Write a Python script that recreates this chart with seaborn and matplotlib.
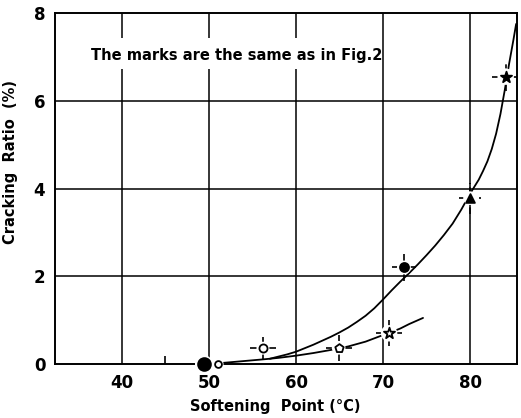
import matplotlib
matplotlib.use("Agg")
import matplotlib.pyplot as plt
from matplotlib.patches import Rectangle
import seaborn as sns

# Measured points: softening point (deg C) vs cracking ratio (%)
softening = [49.4, 51.0, 56.2, 64.9, 70.7, 72.4, 80.0, 84.1]
cracking = [0.0, 0.0, 0.36, 0.37, 0.70, 2.20, 3.78, 6.55]
soft_err = [0.0, 0.0, 1.5, 1.5, 1.5, 1.35, 1.3, 1.6]
crack_err = [0.0, 0.0, 0.26, 0.30, 0.30, 0.30, 0.35, 0.32]
marks = ["o", "o", "o", "p", "*", "o", "^", "*"]
filled = [True, False, False, False, False, True, True, True]
mark_sizes = [85, 24, 34, 40, 70, 42, 40, 70]
dashed_err = [False, False, False, False, True, False, True, True]

# Fitted trend curves
upper_x = [51.3, 55.9, 57.0, 58.0, 59.0, 60.0, 61.0, 62.0, 63.0, 64.0, 65.0,
           66.0, 67.0, 68.0, 69.0, 70.0, 71.0, 72.0, 73.0, 74.0, 75.0, 76.0,
           77.0, 78.0, 79.0, 80.0, 81.0, 81.5, 82.0, 82.5, 83.0, 83.5, 84.0,
           84.5, 85.0, 85.3]
upper_y = [0.02, 0.10, 0.12, 0.17, 0.22, 0.28, 0.36, 0.44, 0.53, 0.62, 0.72,
           0.83, 0.96, 1.10, 1.27, 1.47, 1.68, 1.88, 2.07, 2.27, 2.48, 2.70,
           2.94, 3.20, 3.52, 3.88, 4.20, 4.40, 4.62, 4.90, 5.25, 5.70, 6.25,
           6.85, 7.40, 7.75]
lower_x = [57.0, 58.0, 60.0, 62.0, 64.0, 65.0, 66.0, 68.0, 70.0, 71.0, 72.0,
           73.0, 74.6]
lower_y = [0.12, 0.14, 0.19, 0.25, 0.32, 0.36, 0.40, 0.51, 0.66, 0.73, 0.81,
           0.91, 1.05]

x_ticks = [40, 50, 60, 70, 80]
y_ticks = [0, 2, 4, 6, 8]

sns.set_style("white")
plt.rcParams["font.family"] = ["DejaVu Sans"]
plt.rcParams["text.color"] = "black"
plt.rcParams["axes.labelcolor"] = "black"
plt.rcParams["xtick.color"] = "black"
plt.rcParams["ytick.color"] = "black"

fig = plt.figure(figsize=(5.21, 4.18), dpi=100)
ax = fig.add_axes([55 / 521, 1 - 364 / 418, 462 / 521, 351 / 418])
ax.set_xlim(32.3, 85.4)
ax.set_ylim(0, 8)

# grid
for xv in x_ticks:
    ax.axvline(xv, color="black", lw=1.1, zorder=1)
for yv in y_ticks[1:-1]:
    ax.axhline(yv, color="black", lw=1.1, zorder=1)

# curves
sns.lineplot(x=upper_x, y=upper_y, sort=False, color="black", lw=1.3, ax=ax, zorder=2)
sns.lineplot(x=lower_x, y=lower_y, sort=False, color="black", lw=1.3, ax=ax, zorder=2)

# error crosses
for x, y, ex, ey, d in zip(softening, cracking, soft_err, crack_err, dashed_err):
    if ex == 0 and ey == 0:
        continue
    eb = ax.errorbar([x], [y], xerr=[ex], yerr=[ey], fmt="none", ecolor="black",
                     elinewidth=1.2, capsize=0, zorder=3)
    if d:
        for lc in eb.lines[2]:
            lc.set_linestyle((0, (4, 2)))

# white halos leave small gaps in lines around the marks
for x, y, s in zip(softening, cracking, mark_sizes):
    sns.scatterplot(x=[x], y=[y], marker="o", s=(s ** 0.5 + 3.5) ** 2,
                    color="white", edgecolor="none", linewidth=0, ax=ax,
                    zorder=4, clip_on=False)

for x, y, m, f, s in zip(softening, cracking, marks, filled, mark_sizes):
    sns.scatterplot(x=[x], y=[y], marker=m, s=s,
                    facecolor="black" if f else "white",
                    edgecolor="black", linewidth=1.3, ax=ax, zorder=9,
                    clip_on=False)

# note box
ax.add_patch(Rectangle((37.0, 6.72), 32.3, 0.72, facecolor="white",
                       edgecolor="none", zorder=6))
ax.text(53.2, 7.03, "The marks are the same as in Fig.2", ha="center",
        va="center", fontsize=10.5, fontweight="bold", zorder=7)

for s in ax.spines.values():
    s.set_color("black")
    s.set_linewidth(1.4)
    s.set_zorder(3.5)

ax.set_xticks(x_ticks)
ax.set_yticks(y_ticks)
ax.set_xticks([45], minor=True)
ax.tick_params(axis="both", which="major", length=0, labelsize=12, pad=7)
ax.tick_params(axis="x", which="minor", direction="in", length=6, width=1.2,
               bottom=True)
for lab in ax.get_xticklabels() + ax.get_yticklabels():
    lab.set_fontweight("bold")
ax.set_xlabel("Softening  Point (°C)", fontsize=10.5, fontweight="bold")
ax.set_ylabel("Cracking  Ratio  (%)", fontsize=10.5, fontweight="bold")
ax.xaxis.set_label_coords(0.476, -0.10)
ax.yaxis.set_label_coords(-0.08, 0.575)

fig.savefig("out.png", dpi=100)
